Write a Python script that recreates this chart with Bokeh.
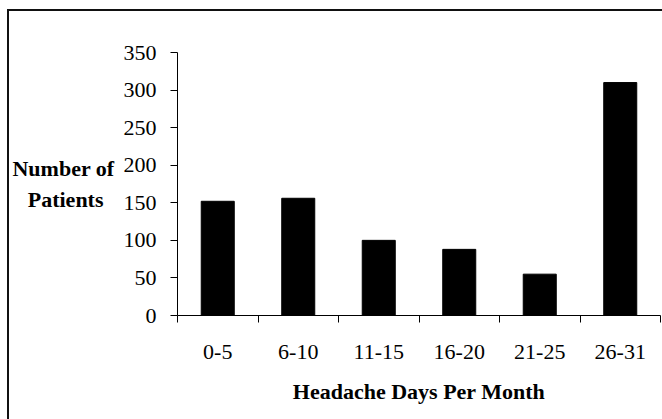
from bokeh.plotting import figure
from bokeh.models import FixedTicker
from bokeh.embed import file_html
from bokeh.resources import INLINE

categories = ["0-5", "6-10", "11-15", "16-20", "21-25", "26-31"]
patients = [152, 156, 100, 88, 55, 310]
y_ticks = [0, 50, 100, 150, 200, 250, 300, 350]
x_label = "Headache Days Per Month"
y_label_lines = ["Number of", "Patients"]

FONT = "Liberation Serif"
FS = "22px"

centers = [i + 0.5 for i in range(len(categories))]
bounds = list(range(len(categories) + 1))

p = figure(width=653, height=408, output_backend="svg", toolbar_location=None,
           x_range=(0, len(categories)), y_range=(0, 350),
           min_border_left=167, min_border_right=2, min_border_top=41, min_border_bottom=104,
           background_fill_color="white", border_fill_color="white")
p.margin = (11, 0, 0, 9)
p.styles = {"outline": "2px solid #111"}
p.outline_line_color = None
p.xgrid.grid_line_color = None
p.ygrid.grid_line_color = None

p.vbar(x=centers, top=patients, width=0.41, bottom=0,
       fill_color="black", line_color="black", line_width=1)

# x axis
xa = p.xaxis[0]
xa.ticker = FixedTicker(ticks=centers, minor_ticks=bounds)
xa.major_label_overrides = {c: lab for c, lab in zip(centers, categories)}
xa.major_tick_line_color = None
xa.major_tick_out = 7
xa.major_tick_in = 0
xa.minor_tick_out = 7
xa.minor_tick_in = 0
xa.minor_tick_line_color = "black"
xa.axis_line_color = "black"
xa.major_label_text_font = FONT
xa.major_label_text_font_size = FS
xa.major_label_text_color = "black"
xa.major_label_standoff = 22
xa.axis_label = x_label
xa.axis_label_text_font = FONT
xa.axis_label_text_font_size = FS
xa.axis_label_text_font_style = "bold"
xa.axis_label_text_color = "black"
xa.axis_label_standoff = 17

# y axis
ya = p.yaxis[0]
ya.ticker = FixedTicker(ticks=y_ticks)
ya.minor_tick_line_color = None
ya.major_tick_out = 7
ya.major_tick_in = 0
ya.major_tick_line_color = "black"
ya.axis_line_color = "black"
ya.major_label_text_font = FONT
ya.major_label_text_font_size = FS
ya.major_label_text_color = "black"
ya.major_label_standoff = 14
# second line padded with non-breaking spaces so it sits centred under the first
ya.axis_label = y_label_lines[0] + "\n" + y_label_lines[1] + "\u00a0\u00a0"
ya.axis_label_orientation = "horizontal"
ya.axis_label_text_font = FONT
ya.axis_label_text_font_size = FS
ya.axis_label_text_font_style = "bold"
ya.axis_label_text_color = "black"
ya.axis_label_text_line_height = 1.26
ya.axis_label_standoff = 6

open("out.html", "w").write(file_html(p, INLINE))
